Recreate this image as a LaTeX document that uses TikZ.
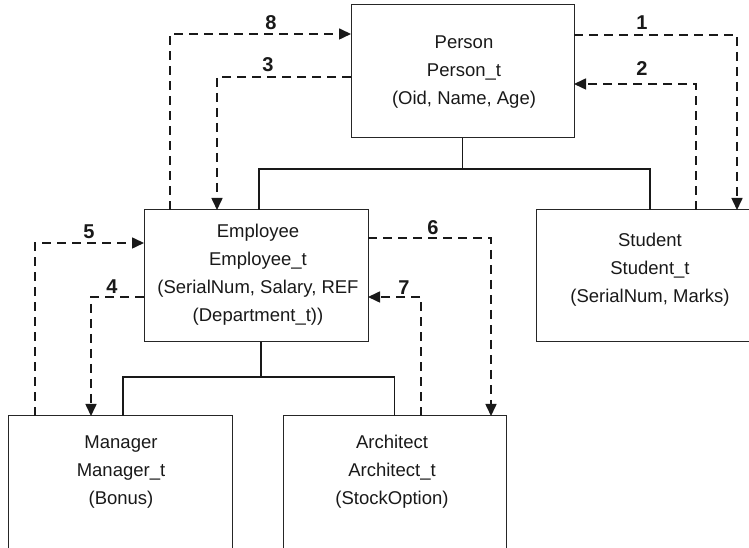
\documentclass[tikz,border=0pt]{standalone}
\usepackage{fontspec}
\setmainfont{Liberation Sans}
\usetikzlibrary{arrows.meta}
\begin{document}
\begin{tikzpicture}[x=1pt,y=1pt,
  box/.style={draw=black!85,line width=1pt,minimum width=#1,inner sep=0pt,outer sep=0pt},
  txt/.style={align=center,font=\fontsize{18.5}{28}\selectfont,inner sep=0pt,text=black!90},
  num/.style={font=\fontsize{20}{22}\selectfont\bfseries,inner sep=0pt,text=black!90},
  tree/.style={line width=1.1pt,draw=black!90},
  dep/.style={line width=1.6pt,draw=black!90,dash pattern=on 9pt off 6pt,
    -{Triangle[length=12pt,width=11pt]}}]
\useasboundingbox (0,0) rectangle (749,548);
\clip (0,0) rectangle (749,548);
% boxes
\node[box=223pt,minimum height=133pt] (person) at (462.5,476.5) {};
\node[box=224pt,minimum height=132pt] (employee) at (256,272) {};
\node[box=228pt,minimum height=132pt] (student) at (650,272) {};
\node[box=224pt,minimum height=144pt] (manager) at (120,60) {};
\node[box=223pt,minimum height=144pt] (architect) at (394.5,60) {};
% texts
\node[txt] (personT) at (464,475.5) {Person\\Person\_t\\(Oid, Name, Age)};
\node[txt] (employeeT) at (258,273.5) {Employee\\Employee\_t\\(SerialNum, Salary, REF\\(Department\_t))};
\node[txt] (studentT) at (650,278) {Student\\Student\_t\\(SerialNum, Marks)};
\node[txt] (managerT) at (121,76) {Manager\\Manager\_t\\(Bonus)};
\node[txt] (architectT) at (392,76) {Architect\\Architect\_t\\(StockOption)};
% tree connectors
\draw[tree] (person.south) -- ++(0,-31) coordinate (pj);
\draw[tree] ([xshift=3pt]employee.north) |- (pj) -| (student.north);
\draw[tree] ([xshift=5pt]employee.south) -- ++(0,-35) coordinate (ej);
\draw[tree] ([xshift=3pt]manager.north) |- (ej) -| (architect.north);
% dashed arrows
\draw[dep] ([xshift=26pt]employee.north west) |- ([yshift=-29pt]person.north west);
\draw[dep] ([yshift=-72pt]person.north west) -| ([xshift=73pt]employee.north west);
\draw[dep] ([yshift=-30pt]person.north east) -| ([xshift=201pt]student.north west);
\draw[dep] ([xshift=160pt]student.north west) |- ([yshift=-79pt]person.north east);
\draw[dep] ([xshift=27pt]manager.north west) |- ([yshift=-33pt]employee.north west);
\draw[dep] ([yshift=-87pt]employee.north west) -| ([xshift=83pt]manager.north west);
\draw[dep] ([yshift=-28pt]employee.north east) -| ([xshift=208pt]architect.north west);
\draw[dep] ([xshift=138pt]architect.north west) |- ([yshift=-87pt]employee.north east);
% labels
\node[num] (n8) at (271,525) {8};
\node[num] (n3) at (268,483) {3};
\node[num] (n1) at (642,525) {1};
\node[num] (n2) at (642,479) {2};
\node[num] (n5) at (89,316) {5};
\node[num] (n4) at (112,261) {4};
\node[num] (n6) at (433,320) {6};
\node[num] (n7) at (404,260) {7};
\end{tikzpicture}
\end{document}
